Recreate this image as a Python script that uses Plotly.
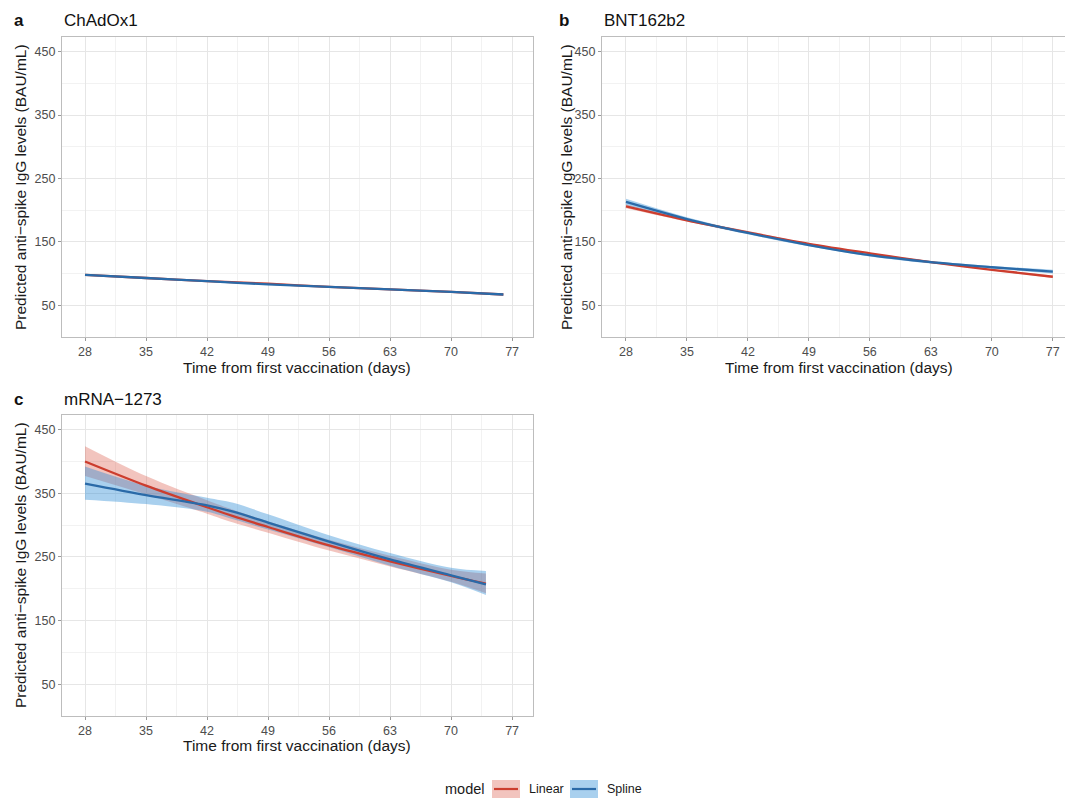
import plotly.graph_objects as go

# ---------------- data ----------------
days_a = [28, 35, 42, 49, 56, 63, 70, 76]
a_linear = [98, 93, 88, 84, 79, 75, 71, 67]
a_spline = [98, 93, 88, 83, 79, 75, 71, 67]

days_b = [28, 35, 42, 49, 56, 63, 70, 77]
b_linear = [206, 184, 165, 147, 132, 118, 106, 95]
b_linear_lo = [203, 182, 163, 146, 131, 117, 105, 93]
b_linear_hi = [209, 186, 167, 148, 133, 119, 107, 97]
b_spline = [213, 186, 164, 145, 129, 118, 110, 103]
b_spline_lo = [208, 183, 162, 143, 127, 116, 108, 100]
b_spline_hi = [218, 189, 166, 147, 131, 120, 112, 106]

days_c = [28, 35, 42, 45, 49, 56, 63, 70, 74]
c_linear = [400, 362, 328, 314, 297, 268, 243, 220, 208]
c_linear_lo = [377, 348, 318, 304, 288, 260, 235, 211, 193]
c_linear_hi = [424, 377, 339, 324, 306, 277, 252, 230, 224]
c_spline = [365, 347, 331, 321, 304, 274, 246, 221, 207]
c_spline_lo = [340, 333, 321, 309, 293, 265, 236, 210, 190]
c_spline_hi = [392, 362, 343, 335, 317, 284, 256, 233, 228]

x_ticks = [28, 35, 42, 49, 56, 63, 70, 77]
y_ticks = [50, 150, 250, 350, 450]

panel_titles = ["ChAdOx1", "BNT162b2", "mRNA\u22121273"]
panel_letters = ["a", "b", "c"]
y_title = "Predicted anti\u2212spike IgG levels (BAU/mL)"
x_title = "Time from first vaccination (days)"
legend_title = "model"
model_names = ["Linear", "Spline"]

# ---------------- styling ----------------
W, H = 1065, 798
FONT = "Liberation Sans, Arial, Helvetica, sans-serif"
RED_LINE = "#CC3D2E"
BLUE_LINE = "#2A6AA8"
RED_FILL = "rgba(218,86,69,0.35)"
BLUE_FILL = "rgba(40,137,212,0.40)"
GRID = "#E6E6E6"
MINOR = "#F2F2F2"
BORDER = "#BDBDBD"
TICKC = "#4D4D4D"


def px(x):
    return x / W


def py(y):
    return 1 - y / H


fig = go.Figure()


def add_ribbon(days, lo, hi, fill, xa, ya):
    fig.add_trace(go.Scatter(x=days, y=lo, mode="lines", line=dict(width=0, shape="spline"),
                             hoverinfo="skip", showlegend=False, xaxis=xa, yaxis=ya))
    fig.add_trace(go.Scatter(x=days, y=hi, mode="lines", line=dict(width=0, shape="spline"),
                             fill="tonexty", fillcolor=fill, hoverinfo="skip",
                             showlegend=False, xaxis=xa, yaxis=ya))


def add_line(days, vals, color, name, xa, ya):
    fig.add_trace(go.Scatter(x=days, y=vals, mode="lines", name=name,
                             line=dict(color=color, width=2.3, shape="spline", smoothing=0.8),
                             showlegend=False, xaxis=xa, yaxis=ya))


# panel a
add_line(days_a, a_linear, RED_LINE, model_names[0], "x", "y")
add_line(days_a, a_spline, BLUE_LINE, model_names[1], "x", "y")
# panel b
add_ribbon(days_b, b_linear_lo, b_linear_hi, RED_FILL, "x2", "y2")
add_ribbon(days_b, b_spline_lo, b_spline_hi, BLUE_FILL, "x2", "y2")
add_line(days_b, b_linear, RED_LINE, model_names[0], "x2", "y2")
add_line(days_b, b_spline, BLUE_LINE, model_names[1], "x2", "y2")
# panel c
add_ribbon(days_c, c_linear_lo, c_linear_hi, RED_FILL, "x3", "y3")
add_ribbon(days_c, c_spline_lo, c_spline_hi, BLUE_FILL, "x3", "y3")
add_line(days_c, c_linear, RED_LINE, model_names[0], "x3", "y3")
add_line(days_c, c_spline, BLUE_LINE, model_names[1], "x3", "y3")

# panel boxes in pixels
boxes = {
    "a": dict(x0=62, x1=533, y0=37, y1=337, xr=[25.36, 79.4]),
    "b": dict(x0=602, x1=1065, y0=37, y1=337, xr=[25.25, 78.4]),
    "c": dict(x0=62, x1=533, y0=415, y1=716, xr=[25.36, 79.4]),
}


def xaxis_cfg(b, anchor, mirror=True):
    return dict(domain=[px(b["x0"]), px(b["x1"])], range=b["xr"], anchor=anchor,
                tickmode="array", tickvals=x_ticks,
                showgrid=True, gridcolor=GRID, gridwidth=1,
                minor=dict(dtick=3.5, tick0=28, showgrid=True, gridcolor=MINOR, gridwidth=0.8),
                showline=True, linecolor=BORDER, linewidth=1.2, mirror=mirror,
                ticks="outside", ticklen=3, tickcolor="#9A9A9A",
                tickfont=dict(family=FONT, size=12.5, color=TICKC), zeroline=False)


def yaxis_cfg(b, anchor, mirror=True):
    return dict(domain=[py(b["y1"]), py(b["y0"])], range=[0, 473], anchor=anchor,
                tickmode="array", tickvals=y_ticks,
                showgrid=True, gridcolor=GRID, gridwidth=1,
                minor=dict(dtick=50, tick0=0, showgrid=True, gridcolor=MINOR, gridwidth=0.8),
                showline=True, linecolor=BORDER, linewidth=1.2, mirror=mirror,
                ticks="outside", ticklen=3, tickcolor="#9A9A9A",
                tickfont=dict(family=FONT, size=12.5, color=TICKC), zeroline=False)


fig.update_layout(
    xaxis=xaxis_cfg(boxes["a"], "y"),
    yaxis=yaxis_cfg(boxes["a"], "x"),
    xaxis2=xaxis_cfg(boxes["b"], "y2"),
    yaxis2=yaxis_cfg(boxes["b"], "x2", mirror=False),
    xaxis3=xaxis_cfg(boxes["c"], "y3"),
    yaxis3=yaxis_cfg(boxes["c"], "x3"),
)

ann = []
# panel letters and titles
letter_pos = [(12, 21), (557, 21), (12, 399)]
title_pos = [(62, 21), (602, 21), (62, 399)]
for (lx, ly), (tx, ty), letter, title in zip(letter_pos, title_pos, panel_letters, panel_titles):
    ann.append(dict(x=px(lx), y=py(ly), xref="paper", yref="paper", text="<b>%s</b>" % letter,
                    showarrow=False, xanchor="left", yanchor="middle",
                    font=dict(family=FONT, size=17, color="#111111")))
    ann.append(dict(x=px(tx), y=py(ty), xref="paper", yref="paper", text=title,
                    showarrow=False, xanchor="left", yanchor="middle",
                    font=dict(family=FONT, size=17, color="#111111")))

# axis titles
ytitle_pos = [(20, 187), (566, 187), (20, 565)]
xtitle_pos = [(297, 367), (839, 367), (297, 745)]
for (yx, yy) in ytitle_pos:
    ann.append(dict(x=px(yx), y=py(yy), xref="paper", yref="paper", text=y_title,
                    textangle=-90, showarrow=False, xanchor="center", yanchor="middle",
                    font=dict(family=FONT, size=15.5, color="#1A1A1A")))
for (xx, xy) in xtitle_pos:
    ann.append(dict(x=px(xx), y=py(xy), xref="paper", yref="paper", text=x_title,
                    showarrow=False, xanchor="center", yanchor="middle",
                    font=dict(family=FONT, size=15.5, color="#1A1A1A")))

# legend (drawn manually)
ann.append(dict(x=px(487), y=py(789), xref="paper", yref="paper", text=legend_title,
                showarrow=False, xanchor="right", yanchor="middle",
                font=dict(family=FONT, size=14.5, color="#1A1A1A")))
shapes = []
legend_items = [(492, 520, 527, RED_FILL, RED_LINE, model_names[0]),
                (570, 598, 605, BLUE_FILL, BLUE_LINE, model_names[1])]
for sx0, sx1, tx, fill, line, name in legend_items:
    shapes.append(dict(type="rect", xref="paper", yref="paper",
                       x0=px(sx0), x1=px(sx1), y0=py(798), y1=py(780),
                       fillcolor=fill, line=dict(width=0), layer="above"))
    shapes.append(dict(type="line", xref="paper", yref="paper",
                       x0=px(sx0 + 2), x1=px(sx1 - 2), y0=py(789), y1=py(789),
                       line=dict(color=line, width=2.2), layer="above"))
    ann.append(dict(x=px(tx), y=py(789), xref="paper", yref="paper", text=name,
                    showarrow=False, xanchor="left", yanchor="middle",
                    font=dict(family=FONT, size=12.5, color="#1A1A1A")))

fig.update_layout(
    width=W, height=H,
    margin=dict(l=0, r=0, t=0, b=0),
    paper_bgcolor="white", plot_bgcolor="white",
    showlegend=False,
    annotations=ann, shapes=shapes,
    font=dict(family=FONT),
)

fig.write_html(
    "out.html",
    config={"displayModeBar": False},
    post_script="document.body.style.margin='0';document.body.style.overflow='hidden';",
)
